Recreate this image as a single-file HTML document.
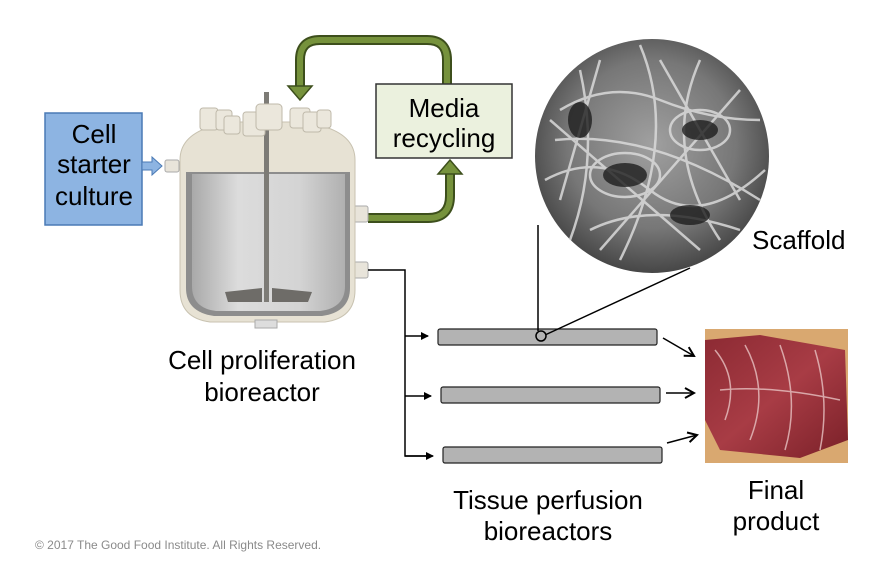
<!DOCTYPE html>
<html><head><meta charset="utf-8"><style>
body{margin:0;background:#fff;}
svg{display:block;font-family:"Liberation Sans",Arial,sans-serif;}
</style></head><body>
<svg width="892" height="568" viewBox="0 0 892 568" xmlns="http://www.w3.org/2000/svg">
<defs>
<radialGradient id="sc" cx="50%" cy="45%" r="60%"><stop offset="0" stop-color="#a0a0a0"/><stop offset="0.6" stop-color="#777"/><stop offset="1" stop-color="#3a3a3a"/></radialGradient>
<linearGradient id="meat" x1="0" y1="0" x2="1" y2="1"><stop offset="0" stop-color="#8c2a33"/><stop offset="0.5" stop-color="#a83c45"/><stop offset="1" stop-color="#7a2028"/></linearGradient>
<linearGradient id="glass" x1="0" x2="1"><stop offset="0" stop-color="#a9a9a9"/><stop offset="0.3" stop-color="#dcdcdc"/><stop offset="0.7" stop-color="#d4d4d4"/><stop offset="1" stop-color="#b0b0b0"/></linearGradient>
<marker id="ah" markerWidth="8" markerHeight="8" refX="7" refY="4" orient="auto" markerUnits="userSpaceOnUse"><path d="M0,0 L8,4 L0,8 Z" fill="#000"/></marker>
<marker id="ao" markerWidth="12" markerHeight="12" refX="10" refY="6" orient="auto" markerUnits="userSpaceOnUse"><path d="M1,1 L10,6 L1,11" fill="none" stroke="#000" stroke-width="2"/></marker>
</defs>

<path d="M447,84 L447,60 Q447,40 427,40 L320,40 Q300,40 300,60 L300,88" fill="none" stroke="#3d4f1c" stroke-width="10"/>
<path d="M447,84 L447,60 Q447,40 427,40 L320,40 Q300,40 300,60 L300,88" fill="none" stroke="#76923c" stroke-width="6"/>
<path d="M288,86 L312,86 L300,100 Z" fill="#76923c" stroke="#3d4f1c" stroke-width="1.5"/>
<path d="M368,218 L428,218 Q450,218 450,196 L450,172" fill="none" stroke="#3d4f1c" stroke-width="10"/>
<path d="M368,218 L428,218 Q450,218 450,196 L450,172" fill="none" stroke="#76923c" stroke-width="6"/>
<path d="M438,174 L462,174 L450,160 Z" fill="#76923c" stroke="#3d4f1c" stroke-width="1.5"/>

<rect x="376" y="84" width="136" height="74" fill="#ebf1de" stroke="#333" stroke-width="1.5"/>
<text x="444" y="117" font-size="26" text-anchor="middle">Media</text>
<text x="444" y="147" font-size="26" text-anchor="middle">recycling</text>

<rect x="45" y="113" width="97" height="112" fill="#8db4e2" stroke="#4a7ab5" stroke-width="1.5"/>
<text x="94" y="143" font-size="26" text-anchor="middle">Cell</text>
<text x="94" y="173" font-size="26" text-anchor="middle">starter</text>
<text x="94" y="205" font-size="26" text-anchor="middle">culture</text>
<path d="M142,162 L152,162 L152,157 L162,166 L152,175 L152,170 L142,170 Z" fill="#8db4e2" stroke="#4a7ab5"/>

<rect x="165" y="160" width="14" height="12" rx="2" fill="#e8e4da" stroke="#aaa"/>
<rect x="350" y="206" width="18" height="16" rx="2" fill="#e8e4da" stroke="#aaa"/>
<rect x="350" y="262" width="18" height="16" rx="2" fill="#e8e4da" stroke="#aaa"/>
<path d="M180,160 Q180,128 235,122 L300,122 Q355,128 355,160 L355,290 Q355,318 325,322 L210,322 Q180,318 180,290 Z" fill="#e7e2d4" stroke="#c8c2b0"/>
<path d="M186,172 L350,172 L350,288 Q350,312 322,316 L214,316 Q186,312 186,288 Z" fill="#8d8d8d"/>
<path d="M192,174 L345,174 L345,286 Q345,308 320,311 L216,311 Q192,308 192,286 Z" fill="url(#glass)"/>
<rect x="255" y="320" width="22" height="8" fill="#ddd" stroke="#aaa"/>
<rect x="264" y="92" width="5" height="210" fill="#7d7b76"/>
<path d="M225,292 L262,288 L262,302 L228,302 Z M272,288 L312,292 L308,302 L272,302 Z" fill="#6e6c68"/>
<g fill="#ebe7dc" stroke="#bfb9aa">
<rect x="200" y="108" width="18" height="22" rx="3"/><rect x="216" y="110" width="16" height="20" rx="3"/>
<rect x="243" y="112" width="22" height="24" rx="3"/><rect x="256" y="104" width="26" height="26" rx="4"/>
<rect x="290" y="108" width="20" height="20" rx="3"/><rect x="303" y="112" width="18" height="20" rx="3"/>
<rect x="317" y="110" width="14" height="18" rx="3"/><rect x="224" y="116" width="16" height="18" rx="3"/>
</g>
<text x="262" y="369" font-size="26" text-anchor="middle">Cell proliferation</text>
<text x="262" y="401" font-size="26" text-anchor="middle">bioreactor</text>

<circle cx="652" cy="156" r="117" fill="url(#sc)"/>
<g stroke="#dadada" stroke-width="2.5" fill="none" opacity="0.85">
<path d="M560,110 Q610,80 660,100 T760,120"/><path d="M545,180 Q600,150 650,190 T765,170"/>
<path d="M580,70 Q600,160 570,240"/><path d="M640,45 Q680,140 620,260"/><path d="M700,60 Q660,150 720,240"/>
<path d="M555,140 Q650,130 760,200"/><path d="M590,230 Q650,200 740,230"/><ellipse cx="625" cy="175" rx="35" ry="22"/><ellipse cx="700" cy="130" rx="30" ry="20"/>
<path d="M600,60 L560,200"/><path d="M660,60 L740,200"/><path d="M550,120 L700,250"/><path d="M740,90 L600,250"/>
</g>
<g fill="#1e1e1e" opacity="0.8"><ellipse cx="625" cy="175" rx="22" ry="12"/><ellipse cx="700" cy="130" rx="18" ry="10"/><ellipse cx="580" cy="120" rx="12" ry="18"/><ellipse cx="690" cy="215" rx="20" ry="10"/></g>
<text x="752" y="249" font-size="26">Scaffold</text>

<path d="M368,270 L405,270 L405,456 L432,456" fill="none" stroke="#000" stroke-width="1.5"/>
<path d="M405,336 L428,336" stroke="#000" stroke-width="1.5" marker-end="url(#ah)"/>
<path d="M405,396 L431,396" stroke="#000" stroke-width="1.5" marker-end="url(#ah)"/>
<path d="M405,456 L433,456" stroke="#000" stroke-width="1.5" marker-end="url(#ah)"/>

<rect x="438" y="329" width="219" height="16" rx="2" fill="#b3b3b3" stroke="#222" stroke-width="1.2"/>
<rect x="441" y="387" width="219" height="16" rx="2" fill="#b3b3b3" stroke="#222" stroke-width="1.2"/>
<rect x="443" y="447" width="219" height="16" rx="2" fill="#b3b3b3" stroke="#222" stroke-width="1.2"/>
<path d="M538,225 L538,331" stroke="#000" stroke-width="1.5"/>
<path d="M545,335 L690,268" stroke="#000" stroke-width="1.5"/>
<circle cx="541" cy="336" r="5" fill="#b3b3b3" stroke="#000" stroke-width="1.5"/>

<path d="M663,338 L694,356" stroke="#000" stroke-width="1.5" marker-end="url(#ao)"/>
<path d="M666,393 L694,393" stroke="#000" stroke-width="1.5" marker-end="url(#ao)"/>
<path d="M667,443 L697,435" stroke="#000" stroke-width="1.5" marker-end="url(#ao)"/>

<rect x="705" y="329" width="143" height="134" fill="#d9a870"/>
<path d="M705,340 L760,335 L845,350 L848,440 L800,458 L720,450 L705,420 Z" fill="url(#meat)"/>
<g stroke="#e8c3c3" stroke-width="1.5" fill="none" opacity="0.8">
<path d="M715,350 Q740,380 725,420"/><path d="M745,345 Q770,390 750,440"/><path d="M780,345 Q800,400 785,450"/><path d="M815,350 Q830,400 820,450"/><path d="M720,390 Q770,385 840,400"/></g>

<text x="548" y="509" font-size="26" text-anchor="middle">Tissue perfusion</text>
<text x="548" y="540" font-size="26" text-anchor="middle">bioreactors</text>
<text x="776" y="499" font-size="26" text-anchor="middle">Final</text>
<text x="776" y="530" font-size="26" text-anchor="middle">product</text>
<text x="35" y="549" font-size="12" fill="#8a8a8a">© 2017 The Good Food Institute. All Rights Reserved.</text>
</svg>
</body></html>
